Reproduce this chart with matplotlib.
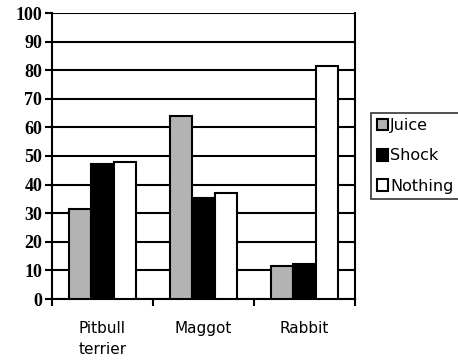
import matplotlib.pyplot as plt
import numpy as np

categories = ['Pitbull\nterrier', 'Maggot', 'Rabbit']
series = ['Juice', 'Shock', 'Nothing']
juice = [31.5, 64.0, 11.7]
shock = [47.2, 35.4, 12.4]
nothing = [47.9, 37.2, 81.5]
colors = ['#b3b3b3', '#000000', '#ffffff']

fig = plt.figure(figsize=(4.58, 3.63), dpi=100)
ax = fig.add_axes([52 / 458, 64 / 363, 303 / 458, 286 / 363])

x = np.arange(len(categories))
w = 0.22
for i, (vals, name) in enumerate(zip([juice, shock, nothing], series)):
    ax.bar(x + (i - 1) * w, vals, w, color=colors[i], edgecolor='black',
           linewidth=1.5, label=name, zorder=3)

ax.set_xlim(-0.5, 2.5)
ax.set_ylim(0, 100)
ax.set_yticks(np.arange(0, 101, 10))
ax.set_yticklabels([str(v) for v in range(0, 101, 10)],
                   fontfamily='Liberation Serif', fontweight='bold', fontsize=13)
ax.set_xticks([-0.5, 0.5, 1.5, 2.5], minor=False)
ax.set_xticklabels([])
ax.set_xticks(x, minor=True)
ax.set_xticklabels(categories, minor=True, fontsize=11, linespacing=1.5)
ax.tick_params(axis='x', which='minor', length=0, pad=16)
ax.tick_params(axis='x', which='major', length=5, width=1.5, direction='out')
ax.tick_params(axis='y', length=5, width=1.5, direction='out', pad=2)
ax.yaxis.grid(True, color='black', linewidth=1.5, zorder=0)
ax.set_axisbelow(True)
for s in ax.spines.values():
    s.set_linewidth(1.5)
ax.spines['top'].set_visible(False)

leg = ax.legend(loc='center left', bbox_to_anchor=(1.053, 0.5), frameon=True,
                fancybox=False, edgecolor='black', fontsize=11.5,
                handlelength=0.7, handleheight=0.7, handletextpad=0.15,
                labelspacing=0.95, borderpad=0.35, borderaxespad=0)
leg.get_frame().set_linewidth(1.2)

fig.savefig('out.png', dpi=100)
